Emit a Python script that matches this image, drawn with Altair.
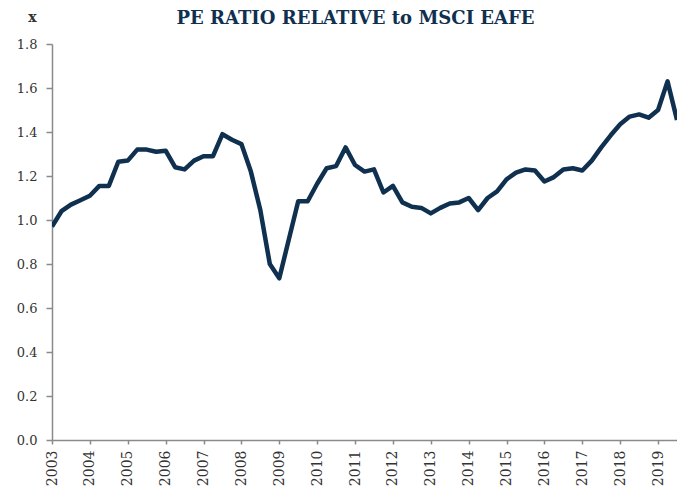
import altair as alt
import pandas as pd

start_year = 2003
values = [
    0.97, 1.04, 1.07, 1.09, 1.11, 1.155, 1.155, 1.265,
    1.27, 1.32, 1.32, 1.31, 1.315, 1.24, 1.23, 1.27,
    1.29, 1.29, 1.39, 1.365, 1.345, 1.22, 1.045, 0.80,
    0.735, 0.91, 1.085, 1.085, 1.165, 1.235, 1.245, 1.33,
    1.25, 1.22, 1.23, 1.125, 1.155, 1.08, 1.06, 1.055,
    1.03, 1.055, 1.075, 1.08, 1.10, 1.045, 1.10, 1.13,
    1.185, 1.215, 1.23, 1.225, 1.175, 1.195, 1.23, 1.235,
    1.225, 1.27, 1.33, 1.385, 1.435, 1.47, 1.48, 1.465,
    1.50, 1.63, 1.455,
]
year_ticks = list(range(2003, 2020))
y_ticks = [0.0, 0.2, 0.4, 0.6, 0.8, 1.0, 1.2, 1.4, 1.6, 1.8]

df = pd.DataFrame({
    "t": [start_year + i / 4 for i in range(len(values))],
    "v": values,
})

FONT = "DejaVu Serif"
AXIS_COLOR = "#8a8a8a"

chart = alt.Chart(df).mark_line(
    color="#10304f", strokeWidth=4.5, strokeJoin="round", strokeCap="butt", clip=True
).encode(
    x=alt.X("t:Q",
            scale=alt.Scale(domain=[2003, 2019.5], nice=False, zero=False),
            axis=alt.Axis(values=year_ticks, format="d", labelAngle=270,
                          labelAlign="right", labelBaseline="middle",
                          labelPadding=6, tickSize=4, title=None, grid=False,
                          labelFont=FONT, labelFontSize=14, labelColor="#333333",
                          domainColor=AXIS_COLOR, tickColor=AXIS_COLOR,
                          domainWidth=1.5, tickWidth=1.5, labelOverlap=False)),
    y=alt.Y("v:Q",
            scale=alt.Scale(domain=[0, 1.8], nice=False),
            axis=alt.Axis(values=y_ticks, format=".1f", tickSize=6, labelPadding=9,
                          grid=False, title="x", titleAngle=0, titleX=-20, titleY=-27,
                          titleAlign="center", titleBaseline="middle",
                          titleFont=FONT, titleFontSize=14, titleFontWeight="bold",
                          titleColor="#333333",
                          labelFont=FONT, labelFontSize=13, labelColor="#333333",
                          domainColor=AXIS_COLOR, tickColor=AXIS_COLOR,
                          domainWidth=1.5, tickWidth=1.5)),
).properties(
    width=625,
    height=396,
    title=alt.TitleParams("PE RATIO RELATIVE to MSCI EAFE", font=FONT, fontSize=18,
                          fontWeight="bold", color="#10304f", anchor="middle",
                          baseline="alphabetic", offset=0, dx=-9, dy=32),
    autosize=alt.AutoSizeParams(type="none"),
    padding={"left": 44, "top": 36, "right": 0, "bottom": 50},
).configure_view(stroke=None)

chart.save("out.html", embed_options={"renderer": "svg", "actions": False})
